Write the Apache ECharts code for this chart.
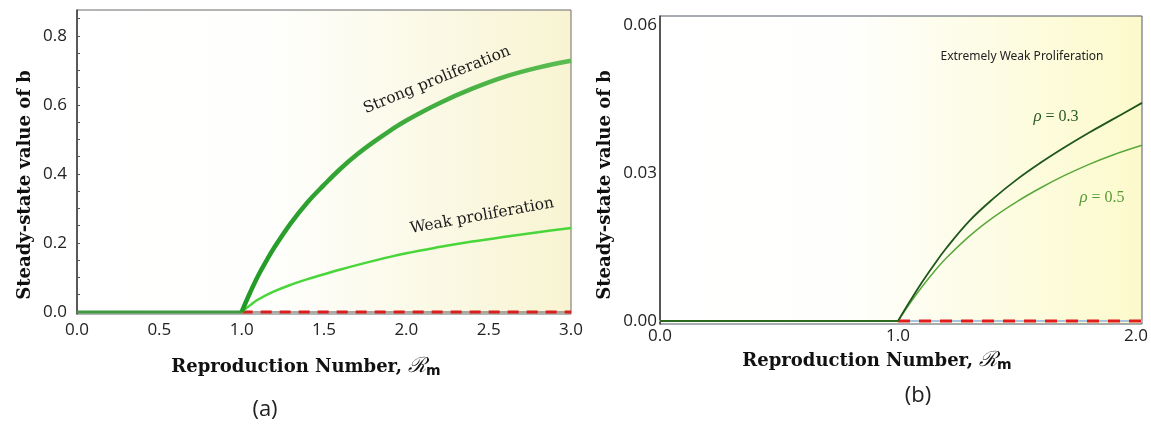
<!DOCTYPE html>
<html>
<head>
<meta charset="utf-8">
<script src="https://cdn.jsdelivr.net/npm/echarts@6/dist/echarts.min.js"></script>
<style>
html,body{margin:0;padding:0;background:#fff;}
#c{width:1151px;height:429px;}
</style>
</head>
<body>
<div id="c"></div>
<script>
// ---------- Panel (a) data ----------
var aBaseline = [[0, 0], [1.0, 0]];
var aUnstable = [[1.0, 0], [3.0, 0]];
var aStrong = [[1.0,0],[1.05,0.055],[1.1,0.105],[1.15,0.148],[1.2,0.188],[1.3,0.258],[1.4,0.318],[1.5,0.368],[1.6,0.415],[1.7,0.456],[1.8,0.492],[1.9,0.525],[2.0,0.555],[2.2,0.605],[2.4,0.647],[2.6,0.682],[2.8,0.708],[3.0,0.728]];
var aWeak = [[1.0,0],[1.05,0.019],[1.1,0.036],[1.2,0.06],[1.3,0.079],[1.4,0.095],[1.5,0.109],[1.6,0.123],[1.8,0.148],[2.0,0.17],[2.2,0.188],[2.4,0.204],[2.6,0.218],[2.8,0.231],[3.0,0.243]];
var aYLabels = [0, 0.2, 0.4, 0.6, 0.8];
var aYTicks = [0.05,0.1,0.15,0.2,0.25,0.3,0.35,0.4,0.45,0.5,0.55,0.6,0.65,0.7,0.75,0.8,0.85];

// ---------- Panel (b) data ----------
var bBaseline = [[0, 0], [1.0, 0]];
var bUnstable = [[1.0, 0], [2.025, 0]];
var bRho03 = [[1.0,0],[1.05,0.004],[1.1,0.0078],[1.15,0.0113],[1.2,0.0146],[1.3,0.0203],[1.4,0.0248],[1.5,0.0287],[1.6,0.0321],[1.7,0.0352],[1.8,0.0381],[1.9,0.0408],[2.025,0.0442]];
var bRho05 = [[1.0,0],[1.05,0.0036],[1.1,0.0069],[1.15,0.0099],[1.2,0.0126],[1.3,0.0172],[1.4,0.021],[1.5,0.0242],[1.6,0.027],[1.7,0.0295],[1.8,0.0317],[1.9,0.0336],[2.025,0.0356]];
var bYLabels = [0, 0.03, 0.06];

var chart = echarts.init(document.getElementById('c'), null, {renderer:'canvas'});

function bg(endColor){
  return {type:'linear',x:0,y:0,x2:1,y2:0,colorStops:[
    {offset:0,color:'#ffffff'},{offset:0.4,color:'#fefefc'},{offset:1,color:endColor}]};
}
var tickFont = {fontFamily:'Open Sans', fontSize:17, color:'#222'};
var titleRich = {
  t:{fontFamily:'DejaVu Serif', fontWeight:'bold', fontSize:18, fill:'#111'},
  r:{fontFamily:'DejaVu Serif', fontSize:21, fill:'#111', fontStyle:'italic', padding:[0,0,0,6]},
  m:{fontFamily:'DejaVu Sans', fontWeight:'bold', fontSize:14, fill:'#111', padding:[9,0,0,0]}
};
var rhoRich = function(col){
  return {i:{fontFamily:'Liberation Serif', fontStyle:'italic', fontSize:17, fill:col},
          n:{fontFamily:'Liberation Serif', fontSize:16, fill:col}};
};

var option = {
  animation:false,
  backgroundColor:'#ffffff',
  grid:[
    {left:77, top:10, width:494, height:304, show:true, backgroundColor:bg('#f8f4d2'), borderColor:'#6a6a6a', borderWidth:1},
    {left:660, top:16, width:482, height:308, show:true, backgroundColor:bg('#fcfacb'), borderColor:'#4f5866', borderWidth:1}
  ],
  xAxis:[
    {gridIndex:0, type:'value', min:0, max:3, interval:0.5,
     axisLine:{show:true, lineStyle:{color:'#8a8a8a', width:1.5}},
     axisTick:{show:false}, splitLine:{show:false},
     axisLabel:Object.assign({margin:8, formatter:function(v){return v.toFixed(1);}}, tickFont)},
    {gridIndex:1, type:'value', min:0, max:2.025, interval:1,
     axisLine:{show:true, lineStyle:{color:'#a9c3df', width:2}},
     axisTick:{show:false}, splitLine:{show:false},
     axisLabel:Object.assign({margin:4, formatter:function(v){return v.toFixed(1);}}, tickFont)}
  ],
  yAxis:[
    {gridIndex:0, type:'value', min:-0.006, max:0.875,
     axisLine:{show:true, lineStyle:{color:'#3a3a3a', width:1.5}},
     axisTick:{show:true, inside:true, length:3, customValues:aYTicks, lineStyle:{color:'#555'}},
     splitLine:{show:false},
     axisLabel:Object.assign({margin:10, customValues:aYLabels, formatter:function(v){return v.toFixed(1);}}, tickFont)},
    {gridIndex:1, type:'value', min:-0.0006, max:0.0618,
     axisLine:{show:true, lineStyle:{color:'#3a3a3a', width:1.5}},
     axisTick:{show:false}, splitLine:{show:false},
     axisLabel:Object.assign({margin:3, customValues:bYLabels, formatter:function(v){return v.toFixed(2);}}, tickFont)}
  ],
  series:[
    {type:'line', xAxisIndex:0, yAxisIndex:0, data:aBaseline, symbol:'none', lineStyle:{color:'#3e9a40', width:3}},
    {type:'line', xAxisIndex:0, yAxisIndex:0, data:aUnstable, symbol:'none', z:3, lineStyle:{color:'#d81e1e', width:3, type:[11,8]}},
    {type:'line', xAxisIndex:0, yAxisIndex:0, data:aWeak, symbol:'none', smooth:0.4, lineStyle:{color:'#49d63a', width:2.5}},
    {type:'line', xAxisIndex:0, yAxisIndex:0, data:aStrong, symbol:'none', smooth:0.4, lineStyle:{width:4.5,
      color:{type:'linear',x:0,y:0,x2:1,y2:0,colorStops:[{offset:0,color:'#219a26'},{offset:1,color:'#5cbd52'}]}}},
    {type:'line', xAxisIndex:1, yAxisIndex:1, data:bBaseline, symbol:'none', lineStyle:{color:'#2b6a1e', width:2}},
    {type:'line', xAxisIndex:1, yAxisIndex:1, data:bUnstable, symbol:'none', z:3, lineStyle:{color:'#e21b1b', width:3, type:[12,9]}},
    {type:'line', xAxisIndex:1, yAxisIndex:1, data:bRho05, symbol:'none', smooth:0.4, lineStyle:{color:'#5aa83a', width:1.5}},
    {type:'line', xAxisIndex:1, yAxisIndex:1, data:bRho03, symbol:'none', smooth:0.4, lineStyle:{color:'#1f561c', width:1.8}}
  ],
  graphic:[
    {type:'text', x:437, y:80, rotation:0.385, style:{text:'Strong proliferation', align:'center', verticalAlign:'middle', fontFamily:'DejaVu Serif', fontSize:15.5, fill:'#1a1a1a'}},
    {type:'text', x:482, y:216, rotation:0.18, style:{text:'Weak proliferation', align:'center', verticalAlign:'middle', fontFamily:'DejaVu Serif', fontSize:15.5, fill:'#1a1a1a'}},
    {type:'text', x:1022, y:57, style:{text:'Extremely Weak Proliferation', align:'center', verticalAlign:'middle', fontFamily:'Noto Sans', fontSize:12, fill:'#222'}},
    {type:'text', x:1056, y:117, style:{text:'{i|ρ}{n| = 0.3}', rich:rhoRich('#2a5a22'), align:'center', verticalAlign:'middle'}},
    {type:'text', x:1102, y:198, style:{text:'{i|ρ}{n| = 0.5}', rich:rhoRich('#5a9a36'), align:'center', verticalAlign:'middle'}},
    {type:'text', x:25, y:185, rotation:Math.PI/2, style:{text:'Steady-state value of b', align:'center', verticalAlign:'middle', fontFamily:'DejaVu Serif', fontWeight:'bold', fontSize:18, fill:'#111'}},
    {type:'text', x:605, y:185, rotation:Math.PI/2, style:{text:'Steady-state value of b', align:'center', verticalAlign:'middle', fontFamily:'DejaVu Serif', fontWeight:'bold', fontSize:18, fill:'#111'}},
    {type:'text', x:306, y:367, style:{text:'{t|Reproduction Number,}{r|ℛ}{m|m}', rich:titleRich, align:'center', verticalAlign:'middle'}},
    {type:'text', x:877, y:361, style:{text:'{t|Reproduction Number,}{r|ℛ}{m|m}', rich:titleRich, align:'center', verticalAlign:'middle'}},
    {type:'text', x:265, y:410, style:{text:'(a)', align:'center', verticalAlign:'middle', fontFamily:'Open Sans', fontSize:22, fill:'#222'}},
    {type:'text', x:918, y:396, style:{text:'(b)', align:'center', verticalAlign:'middle', fontFamily:'Open Sans', fontSize:22, fill:'#222'}}
  ]
};
chart.setOption(option);
</script>
</body>
</html>
